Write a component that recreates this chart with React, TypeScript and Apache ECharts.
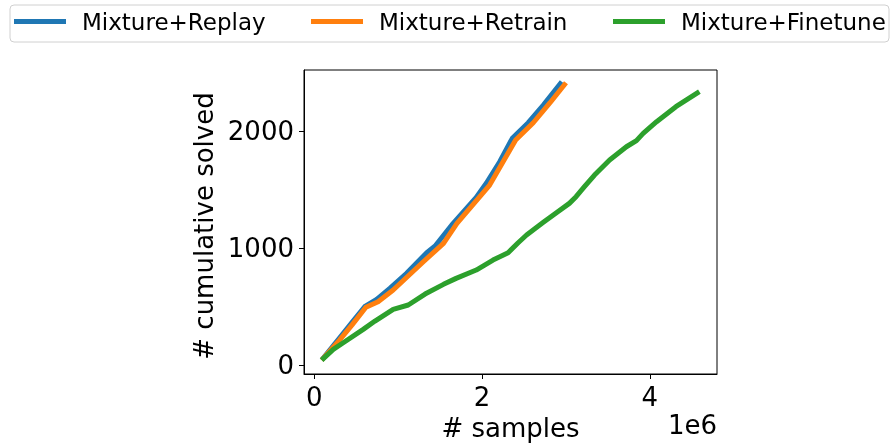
import React, { useEffect, useRef } from "react";
import * as echarts from "echarts";

// x values in units of 1e6 samples
const replayX = [0.088, 0.3, 0.45, 0.6, 0.743, 0.9, 1.1, 1.34, 1.44, 1.655, 1.93, 2.05, 2.21, 2.36, 2.55, 2.73, 2.95];
const replayY = [45, 233, 367, 500, 563, 657, 785, 961, 1018, 1212, 1433, 1553, 1737, 1937, 2070, 2221, 2420];

const retrainX = [0.088, 0.3, 0.45, 0.615, 0.76, 0.94, 1.3, 1.54, 1.7, 2.09, 2.25, 2.4, 2.61, 2.81, 3.0];
const retrainY = [45, 215, 345, 495, 543, 643, 884, 1041, 1212, 1538, 1737, 1922, 2070, 2241, 2411];

const finetuneX = [0.088, 0.226, 0.345, 0.583, 0.723, 0.94, 1.12, 1.32, 1.54, 1.69, 1.93, 2.13, 2.31, 2.43, 2.53, 2.73, 2.89, 3.04, 3.12, 3.22, 3.34, 3.52, 3.72, 3.84, 3.92, 4.08, 4.31, 4.59];
const finetuneY = [45, 136, 193, 307, 378, 478, 515, 608, 691, 742, 813, 898, 961, 1046, 1112, 1220, 1305, 1382, 1439, 1524, 1624, 1752, 1865, 1917, 1979, 2079, 2207, 2335];

const seriesNames = ["Mixture+Replay", "Mixture+Retrain", "Mixture+Finetune"];
const seriesColors = ["#1f77b4", "#ff7f0e", "#2ca02c"];
const xTicks = [0, 2, 4];
const yTicks = [0, 1000, 2000];

const zip = (xs: number[], ys: number[]) => xs.map((x, i) => [x, ys[i]]);

export default function App() {
  const ref = useRef<HTMLDivElement>(null);
  useEffect(() => {
    if (!ref.current) return;
    const chart = echarts.init(ref.current, null, { renderer: "svg" });
    const font = "DejaVu Sans";
    const datasets = [zip(replayX, replayY), zip(retrainX, retrainY), zip(finetuneX, finetuneY)];
    const legendLefts = [14, 311, 613];
    chart.setOption({
      animation: false,
      textStyle: { fontFamily: font },
      grid: {
        left: 304,
        top: 70,
        width: 413,
        height: 304,
        show: true,
        borderColor: "#000",
        borderWidth: 1,
        containLabel: false,
        outerBoundsMode: "none",
      },
      legend: seriesNames.map((name, i) => ({
        left: legendLefts[i],
        top: 10,
        padding: 0,
        itemWidth: 52,
        itemHeight: 5,
        icon: "rect",
        textStyle: { fontFamily: font, fontSize: 23, color: "#000", padding: [0, 0, 0, 11] },
        data: [name],
      })),
      xAxis: {
        type: "value",
        min: -0.123,
        max: 4.8,
        name: "# samples",
        nameLocation: "middle",
        nameGap: 35,
        nameTextStyle: { fontFamily: font, fontSize: 26, color: "#000" },
        axisLine: { show: true, onZero: false, lineStyle: { color: "#000", width: 1 } },
        axisTick: { show: true, length: 5, lineStyle: { color: "#000" }, customValues: xTicks },
        axisLabel: { fontFamily: font, fontSize: 26, color: "#000", margin: 10, customValues: xTicks, formatter: (v: number) => String(v) },
        splitLine: { show: false },
      },
      yAxis: {
        type: "value",
        min: -74,
        max: 2520,
        name: "# cumulative solved",
        nameLocation: "middle",
        nameGap: 87,
        nameTextStyle: { fontFamily: font, fontSize: 26, color: "#000", padding: [0, 8, 0, 0] },
        axisLine: { show: true, onZero: false, lineStyle: { color: "#000", width: 1 } },
        axisTick: { show: true, length: 5, lineStyle: { color: "#000" }, customValues: yTicks },
        axisLabel: { fontFamily: font, fontSize: 26, color: "#000", margin: 10, customValues: yTicks, formatter: (v: number) => String(v) },
        splitLine: { show: false },
      },
      graphic: [
        {
          type: "rect",
          shape: { x: 10, y: 5, width: 879, height: 37, r: 4 },
          style: { fill: "none", stroke: "#d0d0d0", lineWidth: 1 },
          z: 0,
        },
        {
          type: "text",
          x: 717,
          y: 425,
          style: { text: "1e6", fontFamily: font, fontSize: 26, fill: "#000", textAlign: "right", textVerticalAlign: "middle" },
        },
      ],
      series: seriesNames.map((name, i) => ({
        name,
        type: "line",
        data: datasets[i],
        showSymbol: false,
        symbol: "none",
        color: seriesColors[i],
        lineStyle: { width: 5, color: seriesColors[i], cap: "butt", join: "round" },
        z: 2 + i,
      })),
    });
    return () => chart.dispose();
  }, []);
  return <div ref={ref} style={{ position: "fixed", left: 0, top: 0, width: 891, height: 443 }} />;
}
